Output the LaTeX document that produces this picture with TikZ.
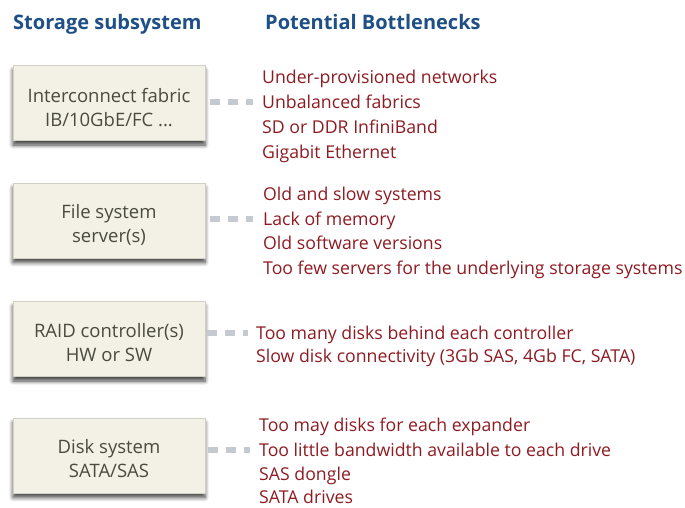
\documentclass[tikz,border=0pt]{standalone}
\usepackage{fontspec}
\setmainfont{Open Sans}
\usetikzlibrary{shadows.blur}
\definecolor{hdr}{HTML}{1E4F86}
\definecolor{bad}{HTML}{8E1B22}
\definecolor{boxfill}{HTML}{F3F1E5}
\definecolor{boxline}{HTML}{D2CFC4}
\definecolor{boxtext}{HTML}{4A4A42}
\definecolor{dashc}{HTML}{C5CAD0}
\tikzset{
  x=1pt, y=-1pt,
  header/.style={font=\fontsize{20}{24}\selectfont\bfseries, text=hdr, anchor=base west, inner sep=0pt},
  subsys/.style={draw=boxline, fill=boxfill, minimum width=192pt, minimum height=75pt, inner sep=0pt,
    blur shadow={shadow xshift=0pt, shadow yshift=-4.5pt, shadow blur steps=6, shadow blur radius=4pt, shadow opacity=75}},
  boxlabel/.style={align=center, text=boxtext, font=\fontsize{18.5}{24}\selectfont, inner sep=0pt},
  issue/.style={font=\fontsize{17.7}{20}\selectfont, text=bad, anchor=base west, inner sep=0pt},
  conn/.style={draw=dashc, line width=6.5pt, dash pattern=on 10pt off 8pt},
}
\begin{document}
\begin{tikzpicture}
\useasboundingbox (0,0) rectangle (685,507);
\node[header] (h1) at (13,29) {Storage subsystem};
\node[header] (h2) at (265,29) {Potential Bottlenecks};

\node[subsys] (b1) at (109,103) {};
\node[subsys] (b2) at (109,220.5) {};
\node[subsys] (b3) at (109,339) {};
\node[subsys] (b4) at (109,455.5) {};
\node[boxlabel] (l1) at ([yshift=-5pt]b1.center) {Interconnect fabric\\IB/10GbE/FC ...};
\node[boxlabel] (l2) at ([yshift=-4pt]b2.center) {File system\\server(s)};
\node[boxlabel] (l3) at ([yshift=-4pt]b3.center) {RAID controller(s)\\HW or SW};
\node[boxlabel] (l4) at ([yshift=-3pt]b4.center) {Disk system\\SATA/SAS};

\node[issue] (a1) at (262,83) {Under-provisioned networks};
\node[issue] (a2) at (262,108) {Unbalanced fabrics};
\node[issue] (a3) at (262,133) {SD or DDR InfiniBand};
\node[issue] (a4) at (262,158) {Gigabit Ethernet};

\node[issue] (f1) at (263,200) {Old and slow systems};
\node[issue] (f2) at (263,225) {Lack of memory};
\node[issue] (f3) at (263,249) {Old software versions};
\node[issue] (f4) at (263,274) {Too few servers for the underlying storage systems};

\node[issue] (r1) at (256,339) {Too many disks behind each controller};
\node[issue] (r2) at (256,362) {Slow disk connectivity (3Gb SAS, 4Gb FC, SATA)};

\node[issue] (d1) at (259,431) {Too may disks for each expander};
\node[issue] (d2) at (259,456) {Too little bandwidth available to each drive};
\node[issue] (d3) at (259,480) {SAS dongle};
\node[issue] (d4) at (259,503.5) {SATA drives};

\draw[conn] (b1.east |- a2.base west) ++(5,-6) -- ([xshift=-9pt,yshift=6pt]a2.base west);
\draw[conn] (b2.east |- f2.base west) ++(5,-6) -- ([xshift=-10pt,yshift=6pt]f2.base west);
\draw[conn] (b3.east |- r1.base west) ++(2,-6) -- ([xshift=-8pt,yshift=6pt]r1.base west);
\draw[conn] (b4.east |- d2.base west) ++(3,-6) -- ([xshift=-9pt,yshift=6pt]d2.base west);
\end{tikzpicture}
\end{document}
